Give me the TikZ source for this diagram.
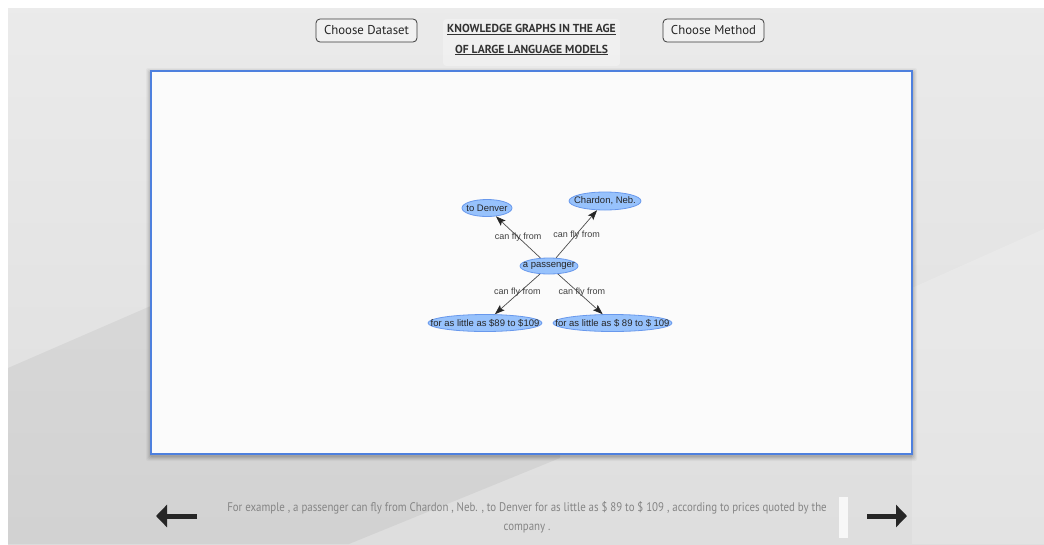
\documentclass[tikz,border=0pt]{standalone}
\usepackage{fontspec}
\usetikzlibrary{shapes.geometric,arrows.meta}
\newfontfamily\uifont{PT Sans}
\newfontfamily\graphfont{Liberation Sans}
\newfontfamily\capfont[FakeStretch=0.87]{PT Sans}
\definecolor{btnline}{HTML}{3A3A3A}
\definecolor{panelblue}{RGB}{78,128,222}
\definecolor{nodefill}{HTML}{97C2FC}
\definecolor{nodeline}{RGB}{104,152,236}
\definecolor{edgecol}{HTML}{4D4D4D}
\definecolor{captext}{HTML}{858585}
\tikzset{
  button/.style={draw=btnline, line width=0.8pt, fill=white, fill opacity=0.35, text opacity=1,
    rounded corners=4pt, minimum width=101pt, minimum height=23pt, inner sep=0pt,
    font=\uifont\fontsize{12.8}{14}\selectfont, text=black!85},
  entity/.style={ellipse, draw=nodeline, line width=0.8pt, fill=nodefill, inner sep=0pt,
    text=black!85, font=\graphfont\fontsize{9.5}{10}\selectfont},
  relation/.style={draw=edgecol, line width=0.7pt,
    -{Stealth[length=10pt,width=7pt,inset=2pt,color=black!85]}},
  rellabel/.style={font=\graphfont\fontsize{9}{10}\selectfont, text=black!75, inner sep=0pt},
  navarrow/.style={draw=black!85, line width=5pt, -{Triangle[length=11pt,width=22pt]}},
  heading/.style={font=\uifont\bfseries\fontsize{11.6}{13}\selectfont, text=black!80},
  sentence/.style={font=\capfont\fontsize{12.5}{14}\selectfont, text=captext},
}
\begin{document}
\begin{tikzpicture}[x=1pt,y=-1pt]
\useasboundingbox (0,0) rectangle (1044,544);
% page background
\fill[white] (0,0) rectangle (1044,544);
\shade[top color=black!8, bottom color=black!13] (8,8) rectangle (1044,544);
\fill[black, opacity=0.05] (8,368) -- (153,305) -- (560,305) -- (560,458) -- (349,544) -- (8,544) -- cycle;
\fill[white, opacity=0.18] (912,288) -- (1044,229) -- (1044,544) -- (912,544) -- cycle;

% header
\node[button] (dataset) at (366.5,30.5) {Choose Dataset};
\node[button] (method) at (713.5,30.5) {Choose Method};
\fill[white, opacity=0.3, rounded corners=4pt] (443,19) rectangle (620,66);
\draw[black!6, rounded corners=4pt] (443,19) rectangle (620,66);
\node[heading] (title1) at (531.5,29.5) {\underline{KNOWLEDGE GRAPHS IN THE AGE}};
\node[heading] (title2) at (531.5,50) {\underline{OF LARGE LANGUAGE MODELS}};

% graph panel with soft shadow
\foreach \s/\o in {5/0.03,4/0.04,3/0.05,2/0.06,1/0.08}
  \fill[black, opacity=\o, rounded corners=2pt] (151-\s,71-\s+2) rectangle (912+\s,454+\s+2);
\fill[black!1.5] (151,71) rectangle (912,454);
\draw[panelblue, line width=1.5pt] (151,71) rectangle (912,454);

% knowledge graph
\node[entity, minimum width=58pt, minimum height=16pt] (passenger) at (549,266) {\makebox[0pt]{a passenger}};
\node[entity, minimum width=50pt, minimum height=17pt] (denver) at (487,208) {\makebox[0pt]{to Denver}};
\node[entity, minimum width=72pt, minimum height=18pt] (chardon) at (605,201) {\makebox[0pt]{Chardon, Neb.}};
\node[entity, minimum width=114pt, minimum height=17pt] (price1) at (485,323) {\makebox[0pt]{for as little as \$89 to \$109}};
\node[entity, minimum width=119pt, minimum height=17pt] (price2) at (612.5,323) {\makebox[0pt]{for as little as \$ 89 to \$ 109}};

\draw[relation] (passenger) -- node[rellabel, yshift=-0.5pt] (l1) {can fly from} (denver);
\draw[relation] (passenger) -- node[rellabel, yshift=-1pt] (l2) {can fly from} (chardon);
\draw[relation] (passenger) -- node[rellabel, yshift=2pt] (l3) {can fly from} (price1);
\draw[relation] (passenger) -- node[rellabel, xshift=1.5pt, yshift=2pt] (l4) {can fly from} (price2);

% footer: navigation and sentence
\coordinate (prevtail) at (197,516);
\coordinate (prevhead) at (156,516);
\coordinate (nexttail) at (867,516);
\coordinate (nexthead) at (907,516);
\draw[navarrow] (prevtail) -- (prevhead);
\draw[navarrow] (nexttail) -- (nexthead);
\fill[white!97!black] (839,497) rectangle (848,538);
\node[sentence] (sent1) at (527,507.5)
  {For example , a passenger can fly from Chardon , Neb. , to Denver for as little as \$ 89 to \$ 109 , according to prices quoted by the};
\node[sentence] (sent2) at (527,528.5) {company .};
\end{tikzpicture}
\end{document}
